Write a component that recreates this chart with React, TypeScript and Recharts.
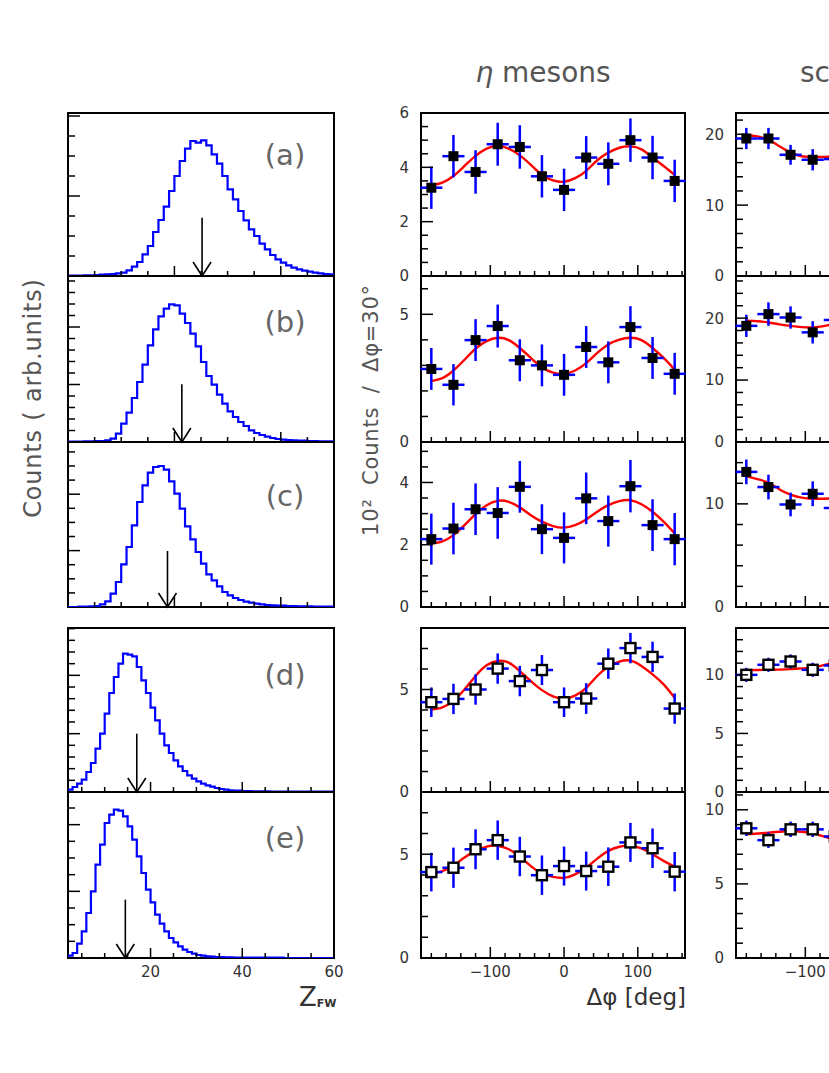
import React from 'react';
import {
  ComposedChart,
  Line,
  Scatter,
  ErrorBar,
  XAxis,
  YAxis,
  ReferenceArea,
  ReferenceLine,
} from 'recharts';

const FONT = "'DejaVu Sans', 'Liberation Sans', sans-serif";
const BLUE = '#0000ff';
const RED = '#ff0000';

// Z_FW distributions (bin width 1, arb. units)
const HIST_A = [1, 1, 1, 2, 2, 3, 4, 5, 6, 8, 10, 17, 28, 42, 65, 90, 132, 168, 208, 255, 300, 345, 382, 405, 400, 407, 392, 365, 337, 300, 260, 230, 195, 167, 140, 120, 97, 80, 63, 50, 40, 32, 25, 20, 16, 13, 10, 8, 6, 5];
const HIST_B = [1, 1, 1, 2, 2, 3, 3, 5, 10, 25, 55, 88, 132, 180, 232, 290, 338, 377, 400, 413, 410, 385, 357, 325, 287, 240, 198, 172, 142, 115, 92, 75, 60, 48, 35, 27, 21, 16, 12, 9, 7, 6, 5, 4, 4, 3, 3, 2, 2, 2];
const HIST_C = [0, 0, 1, 1, 2, 3, 8, 17, 40, 75, 128, 180, 245, 315, 365, 403, 420, 423, 412, 377, 340, 295, 242, 203, 165, 130, 98, 80, 62, 45, 35, 27, 21, 16, 13, 10, 8, 6, 5, 4, 4, 3, 3, 2, 2, 2, 1, 1, 1, 1];
const HIST_D = [7, 15, 25, 37, 60, 87, 130, 175, 235, 297, 345, 385, 415, 412, 407, 375, 335, 297, 253, 215, 175, 140, 117, 95, 77, 63, 50, 40, 32, 25, 20, 16, 12, 9, 7, 5, 4, 4, 3, 3, 2, 2, 2, 2, 1, 1, 1, 1, 1, 1, 1, 1, 1, 1, 1, 1, 1, 1];
const HIST_E = [7, 15, 43, 80, 135, 200, 280, 340, 405, 430, 445, 442, 425, 395, 355, 305, 255, 205, 167, 130, 103, 80, 60, 47, 35, 25, 18, 13, 9, 7, 5, 4, 3, 3, 2, 2, 1, 1, 1, 1, 1, 1, 1, 1, 1, 1, 1, 0, 0, 0, 0, 0, 0, 0, 0, 0, 0, 0];
const HISTS = [HIST_A, HIST_B, HIST_C, HIST_D, HIST_E];
const HIST_START = [0, 0, 0, 2, 2];
const HIST_END = [50, 50, 50, 60, 60];
const HIST_YMAX = [489, 498, 495, 492, 498];
const HIST_YSTEP = [60, 34.5, 42.3, 35, 50];
const HIST_YMAJOR = [4, 5, 4, 5, 4];
const ARROW_Z = [25.2, 21.4, 18.7, 17.0, 14.5];
const ARROW_TOP = [175, 173, 168, 175, 175];
const Z_TICKS_ABC = [5, 10, 15, 20, 25, 30, 35, 40, 45];
const Z_TICKS_DE = [5, 10, 15, 20, 25, 30, 35, 40, 45, 50, 55, 60];
const Z_LABELS = [20, 40, 60];
const PANEL_LABELS = ['(a)', '(b)', '(c)', '(d)', '(e)'];

// eta mesons, Delta phi bins of 30 deg
const PHI = [-180, -150, -120, -90, -60, -30, 0, 30, 60, 90, 120, 150];
const ETA_A = [3.25, 4.41, 3.83, 4.85, 4.75, 3.67, 3.17, 4.36, 4.13, 5.0, 4.36, 3.5];
const ETA_A_ERR = [0.78, 0.78, 0.8, 0.79, 0.8, 0.78, 0.78, 0.79, 0.79, 0.8, 0.8, 0.78];
const ETA_B = [2.86, 2.24, 3.99, 4.54, 3.2, 3.0, 2.63, 3.72, 3.12, 4.5, 3.29, 2.67];
const ETA_B_ERR = [0.82, 0.81, 0.82, 0.84, 0.82, 0.82, 0.82, 0.82, 0.82, 0.82, 0.82, 0.82];
const ETA_C = [2.18, 2.52, 3.14, 3.02, 3.86, 2.5, 2.22, 3.49, 2.76, 3.88, 2.63, 2.18];
const ETA_C_ERR = [0.82, 0.83, 0.83, 0.83, 0.83, 0.8, 0.82, 0.83, 0.82, 0.84, 0.83, 0.84];
const ETA_D = [4.38, 4.54, 5.0, 6.02, 5.41, 5.95, 4.38, 4.56, 6.26, 7.02, 6.59, 4.07];
const ETA_D_ERR = [0.72, 0.74, 0.74, 0.74, 0.74, 0.73, 0.72, 0.75, 0.74, 0.74, 0.74, 0.74];
const ETA_E = [4.14, 4.35, 5.24, 5.68, 4.89, 3.99, 4.43, 4.19, 4.4, 5.57, 5.29, 4.16];
const ETA_E_ERR = [0.93, 0.97, 0.96, 0.95, 0.95, 0.95, 0.94, 0.94, 0.93, 0.94, 0.95, 0.95];

// fitted curves, sampled every 15 deg
const FIT_PHI = [-180, -165, -150, -135, -120, -105, -90, -75, -60, -45, -30, -15, 0, 15, 30, 45, 60, 75, 90, 105, 120, 135, 150];
const ETA_FIT_A = [3.34, 3.44, 3.68, 4.05, 4.42, 4.69, 4.79, 4.69, 4.44, 4.09, 3.72, 3.52, 3.47, 3.6, 3.87, 4.26, 4.54, 4.72, 4.77, 4.66, 4.36, 4.05, 3.72];
const ETA_FIT_B = [2.39, 2.5, 2.8, 3.22, 3.66, 3.95, 4.08, 3.99, 3.68, 3.29, 2.92, 2.72, 2.67, 2.8, 3.09, 3.49, 3.82, 4.01, 4.08, 3.99, 3.68, 3.29, 2.83];
const ETA_FIT_C = [2.04, 2.11, 2.31, 2.63, 2.98, 3.27, 3.41, 3.38, 3.2, 2.95, 2.74, 2.6, 2.55, 2.63, 2.81, 3.06, 3.27, 3.4, 3.43, 3.3, 3.06, 2.74, 2.36];
const ETA_FIT_D = [4.02, 4.13, 4.46, 5.0, 5.66, 6.18, 6.39, 6.31, 5.9, 5.41, 4.97, 4.67, 4.56, 4.7, 5.08, 5.66, 6.11, 6.36, 6.41, 6.15, 5.74, 5.25, 4.59];
const ETA_FIT_E = [4.07, 4.19, 4.46, 4.84, 5.16, 5.37, 5.41, 5.24, 4.89, 4.43, 4.07, 3.91, 3.86, 4.03, 4.35, 4.79, 5.16, 5.36, 5.41, 5.28, 5.0, 4.68, 4.4];

// third column (only its left part is visible)
const SC_PHI = [-180, -150, -120, -90, -60];
const SC_A = [19.4, 19.4, 17.1, 16.4, 16.5];
const SC_A_ERR = [1.5, 1.5, 1.4, 1.5, 1.5];
const SC_B = [18.75, 20.65, 20.1, 17.7, 19.7];
const SC_B_ERR = [1.8, 1.9, 1.8, 1.8, 1.8];
const SC_C = [13.1, 11.63, 9.94, 10.98, 9.6];
const SC_C_ERR = [1.2, 1.2, 1.15, 1.2, 1.2];
const SC_D = [10.0, 10.86, 11.14, 10.43, 10.8];
const SC_D_ERR = [0.6, 0.6, 0.6, 0.6, 0.6];
const SC_E = [8.75, 7.95, 8.68, 8.68, 8.2];
const SC_E_ERR = [0.52, 0.52, 0.52, 0.52, 0.52];
const SC_FIT_PHI = [-180, -165, -150, -135, -120, -105, -90, -75, -60, -45];
const SC_FIT_A = [19.9, 19.7, 19.2, 18.3, 17.4, 16.9, 16.8, 16.8, 16.9, 17.2];
const SC_FIT_B = [19.6, 19.5, 19.3, 19.0, 18.75, 18.55, 18.5, 18.7, 19.1, 19.5];
const SC_FIT_C = [12.7, 12.4, 12.05, 11.4, 10.9, 10.6, 10.5, 10.5, 10.55, 10.7];
const SC_FIT_D = [10.4, 10.42, 10.43, 10.45, 10.49, 10.55, 10.63, 10.83, 11.0, 11.1];
const SC_FIT_E = [8.34, 8.4, 8.45, 8.52, 8.57, 8.52, 8.41, 8.2, 8.0, 7.8];

const PHI_TICKS = [-180, -160, -140, -120, -100, -80, -60, -40, -20, 0, 20, 40, 60, 80, 100, 120, 140, 160];
const PHI_LABELS = [-100, 0, 100];
const SC_PHI_LABELS = [-100];

const ETA_PANELS = [
  { y: ETA_A, err: ETA_A_ERR, fit: ETA_FIT_A, yMax: 6, step: 0.5, major: 2, labels: [0, 2, 4, 6], open: false },
  { y: ETA_B, err: ETA_B_ERR, fit: ETA_FIT_B, yMax: 6.5, step: 1, major: 5, labels: [0, 5], open: false },
  { y: ETA_C, err: ETA_C_ERR, fit: ETA_FIT_C, yMax: 5.3, step: 0.5, major: 2, labels: [0, 2, 4], open: false },
  { y: ETA_D, err: ETA_D_ERR, fit: ETA_FIT_D, yMax: 8, step: 1, major: 5, labels: [0, 5], open: true },
  { y: ETA_E, err: ETA_E_ERR, fit: ETA_FIT_E, yMax: 8, step: 1, major: 5, labels: [0, 5], open: true },
];
const SC_PANELS = [
  { y: SC_A, err: SC_A_ERR, fit: SC_FIT_A, yMax: 23, step: 2, major: 10, labels: [0, 10, 20], open: false },
  { y: SC_B, err: SC_B_ERR, fit: SC_FIT_B, yMax: 26.8, step: 2, major: 10, labels: [0, 10, 20], open: false },
  { y: SC_C, err: SC_C_ERR, fit: SC_FIT_C, yMax: 16, step: 2, major: 10, labels: [0, 10], open: false },
  { y: SC_D, err: SC_D_ERR, fit: SC_FIT_D, yMax: 14, step: 1, major: 5, labels: [0, 5, 10], open: true },
  { y: SC_E, err: SC_E_ERR, fit: SC_FIT_E, yMax: 11.2, step: 1, major: 5, labels: [0, 5, 10], open: true },
];

// layout
const ROW_TOP = [113, 276, 442, 628, 792];
const ROW_H = [163, 166, 165, 164, 166];
const COL_LEFT = [68, 421, 736];
const COL_W = [266, 264, 264];
const ML = 50, MR = 22, MT = 14, MB = 32;

const isMult = (v: number, m: number) => Math.abs(v / m - Math.round(v / m)) < 1e-6;
const fmt = (v: number) => (v < 0 ? '\u2212' + Math.abs(v) : String(v));
const tickList = (step: number, max: number, withZero: boolean) => {
  const out: number[] = withZero ? [0] : [];
  for (let k = 1; k * step <= max + 1e-6; k++) out.push(+(k * step).toFixed(4));
  return out;
};

const XTick = (p: any) => {
  const { x, y, payload, majorStep, labels, majLen, minLen } = p;
  const v = payload.value;
  const len = isMult(v, majorStep) ? majLen : minLen;
  return (
    <g>
      <line x1={x} x2={x} y1={y} y2={y - len} stroke="#000" strokeWidth={1.5} />
      {labels.includes(v) && (
        <text x={x} y={y + 19} textAnchor="middle" fontSize={15} fontFamily={FONT} fill="#333">
          {fmt(v)}
        </text>
      )}
    </g>
  );
};

const YTick = (p: any) => {
  const { x, y, payload, majorStep, labels } = p;
  const v = payload.value;
  const len = isMult(v, majorStep) ? 12 : 7;
  return (
    <g>
      <line x1={x} x2={x + len} y1={y} y2={y} stroke="#000" strokeWidth={1.5} />
      {labels.includes(v) && (
        <text x={x - 12} y={y} dy="0.36em" textAnchor="end" fontSize={15} fontFamily={FONT} fill="#333">
          {fmt(v)}
        </text>
      )}
    </g>
  );
};

const Arrow = (p: any) => {
  const { x1, y1, x2, y2 } = p;
  return (
    <g>
      <line x1={x1} y1={y1} x2={x2} y2={y2} stroke="#000" strokeWidth={1.6} />
      <polyline points={`${x2 - 9},${y2 - 14} ${x2},${y2} ${x2 + 9},${y2 - 14}`} fill="none" stroke="#000" strokeWidth={1.6} />
    </g>
  );
};

const Square = (p: any) => {
  const { cx, cy, open } = p;
  if (cx == null || cy == null) return <g />;
  return open ? (
    <rect x={cx - 5} y={cy - 5} width={10} height={10} fill="#fff" stroke="#000" strokeWidth={2.4} />
  ) : (
    <rect x={cx - 5} y={cy - 5} width={10} height={10} fill="#000" />
  );
};

// the axes take 1px each, so the margins are reduced by one to keep the plot box in place
const MARGIN = { top: MT, right: MR, bottom: MB - 1, left: ML - 1 };

function chartBox(col: number, row: number) {
  return {
    position: 'absolute' as const,
    left: COL_LEFT[col] - ML,
    top: ROW_TOP[row] - MT,
  };
}

function HistPanel({ row }: { row: number }) {
  const bins = HISTS[row];
  const start = HIST_START[row];
  const end = HIST_END[row];
  const data = bins.map((h, k) => ({ z: start + k, h }));
  data.push({ z: end, h: bins[bins.length - 1] });
  const yMax = HIST_YMAX[row];
  const yStep = HIST_YSTEP[row];
  const yTicks = tickList(yStep, yMax, false);
  const xTicks = row < 3 ? Z_TICKS_ABC : Z_TICKS_DE;
  const xLabels = row === 4 ? Z_LABELS : [];
  return (
    <div style={chartBox(0, row)}>
      <ComposedChart width={COL_W[0] + ML + MR} height={ROW_H[row] + MT + MB} data={data} margin={MARGIN}>
        <XAxis
          type="number"
          dataKey="z"
          domain={[start, end]}
          allowDataOverflow
          ticks={xTicks}
          interval={0}
          height={1}
          axisLine={false}
          tickLine={false}
          tickSize={0}
          tickMargin={0}
          tick={(p: any) => <XTick {...p} majorStep={20} labels={xLabels} majLen={10} minLen={5} />}
        />
        <YAxis
          type="number"
          domain={[0, yMax]}
          allowDataOverflow
          ticks={yTicks}
          interval={0}
          width={1}
          axisLine={false}
          tickLine={false}
          tickSize={0}
          tickMargin={0}
          tick={(p: any) => <YTick {...p} majorStep={yStep * HIST_YMAJOR[row]} labels={[]} />}
        />
        <ReferenceArea x1={start} x2={end} y1={0} y2={yMax} fill="none" fillOpacity={0} stroke="#000" strokeWidth={2} />
        <Line type="stepAfter" dataKey="h" stroke={BLUE} strokeWidth={2.2} dot={false} isAnimationActive={false} />
        <ReferenceLine
          segment={[
            { x: ARROW_Z[row], y: ARROW_TOP[row] },
            { x: ARROW_Z[row], y: 0 },
          ]}
          stroke="#000"
          shape={(p: any) => <Arrow {...p} />}
        />
      </ComposedChart>
    </div>
  );
}

function PhiPanel({ col, row, cfg, phi }: { col: number; row: number; cfg: any; phi: number[] }) {
  const fitPhi = col === 1 ? FIT_PHI : SC_FIT_PHI;
  const fitData = fitPhi.map((x, k) => ({ x, fit: cfg.fit[k] }));
  const points = phi.map((x, k) => ({ x, y: cfg.y[k], ey: cfg.err[k], ex: 15 }));
  const yTicks = tickList(cfg.step, cfg.yMax, true);
  const xLabels = row === 4 ? (col === 1 ? PHI_LABELS : SC_PHI_LABELS) : [];
  return (
    <div style={chartBox(col, row)}>
      <ComposedChart width={COL_W[col] + ML + MR} height={ROW_H[row] + MT + MB} data={fitData} margin={MARGIN}>
        <XAxis
          type="number"
          dataKey="x"
          domain={[-194, 164]}
          allowDataOverflow
          ticks={PHI_TICKS}
          interval={0}
          height={1}
          axisLine={false}
          tickLine={false}
          tickSize={0}
          tickMargin={0}
          tick={(p: any) => <XTick {...p} majorStep={100} labels={xLabels} majLen={11} minLen={5} />}
        />
        <YAxis
          type="number"
          domain={[0, cfg.yMax]}
          allowDataOverflow
          ticks={yTicks}
          interval={0}
          width={1}
          axisLine={false}
          tickLine={false}
          tickSize={0}
          tickMargin={0}
          tick={(p: any) => <YTick {...p} majorStep={cfg.major} labels={cfg.labels} />}
        />
        <ReferenceArea x1={-194} x2={164} y1={0} y2={cfg.yMax} fill="none" fillOpacity={0} stroke="#000" strokeWidth={2} />
        <Line type="natural" dataKey="fit" stroke={RED} strokeWidth={2.4} dot={false} isAnimationActive={false} />
        <Scatter data={points} dataKey="y" isAnimationActive={false} shape={(p: any) => <Square {...p} open={cfg.open} />}>
          <ErrorBar dataKey="ey" direction="y" width={0} stroke={BLUE} strokeWidth={2.5} />
          <ErrorBar dataKey="ex" direction="x" width={0} stroke={BLUE} strokeWidth={2.5} />
        </Scatter>
      </ComposedChart>
    </div>
  );
}

const LABEL_Y = [155, 322, 496, 675, 838];

export default function App() {
  const grey = '#555';
  return (
    <div
      style={{
        position: 'fixed',
        left: 0,
        top: 0,
        width: 829,
        height: 1073,
        overflow: 'hidden',
        background: '#fff',
        fontFamily: FONT,
      }}
    >
      {[0, 1, 2, 3, 4].map((r) => (
        <HistPanel key={'h' + r} row={r} />
      ))}
      {ETA_PANELS.map((cfg, r) => (
        <PhiPanel key={'e' + r} col={1} row={r} cfg={cfg} phi={PHI} />
      ))}
      {SC_PANELS.map((cfg, r) => (
        <PhiPanel key={'s' + r} col={2} row={r} cfg={cfg} phi={SC_PHI} />
      ))}

      {PANEL_LABELS.map((t, r) => (
        <div
          key={t}
          style={{
            position: 'absolute',
            left: 285,
            top: LABEL_Y[r],
            transform: 'translate(-50%, -50%)',
            fontSize: 29,
            lineHeight: '1',
            color: '#666',
            whiteSpace: 'nowrap',
          }}
        >
          {t}
        </div>
      ))}

      <div
        style={{
          position: 'absolute',
          left: 33,
          top: 398,
          transform: 'translate(-50%, -50%) rotate(-90deg)',
          fontSize: 24,
          letterSpacing: 0.8,
          lineHeight: '1',
          color: grey,
          whiteSpace: 'nowrap',
        }}
      >
        Counts ( arb.units)
      </div>

      <div
        style={{
          position: 'absolute',
          left: 371,
          top: 410,
          transform: 'translate(-50%, -50%) rotate(-90deg)',
          fontSize: 21,
          letterSpacing: 0.8,
          wordSpacing: 6,
          lineHeight: '1',
          color: grey,
          whiteSpace: 'nowrap',
        }}
      >
        10² Counts / Δφ=30°
      </div>

      <div
        style={{
          position: 'absolute',
          left: 543,
          top: 73,
          transform: 'translate(-50%, -50%)',
          fontSize: 28,
          lineHeight: '1',
          color: grey,
          whiteSpace: 'nowrap',
        }}
      >
        <i>η</i> mesons
      </div>

      <div
        style={{
          position: 'absolute',
          left: 800,
          top: 73,
          transform: 'translateY(-50%)',
          fontSize: 28,
          lineHeight: '1',
          color: grey,
          whiteSpace: 'nowrap',
        }}
      >
        sc
      </div>

      <div
        style={{
          position: 'absolute',
          right: 829 - 686,
          top: 997,
          transform: 'translateY(-50%)',
          fontSize: 23,
          lineHeight: '1',
          color: '#333',
          whiteSpace: 'nowrap',
        }}
      >
        Δφ [deg]
      </div>

      <div
        style={{
          position: 'absolute',
          left: 299,
          top: 997,
          transform: 'translateY(-50%)',
          fontSize: 26,
          lineHeight: '1',
          color: '#333',
          whiteSpace: 'nowrap',
        }}
      >
        Z<span style={{ fontSize: 11, fontWeight: 'bold', verticalAlign: '-0.1em' }}>FW</span>
      </div>
    </div>
  );
}
